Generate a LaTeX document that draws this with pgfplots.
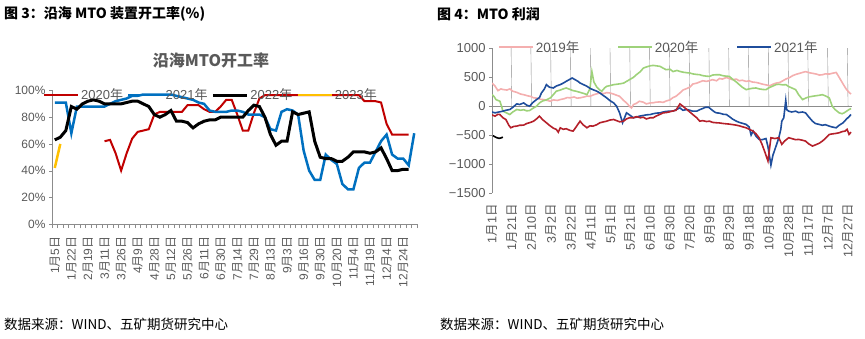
\documentclass[border=0pt]{standalone}
\usepackage{pgfplots}
\usepackage{pgfplotstable}
\pgfplotsset{compat=1.18}
\usepackage{fontspec}
\setmainfont{Liberation Sans}
\newfontfamily\cjk{Noto Sans CJK SC}
\definecolor{txt}{HTML}{595959}
\definecolor{axg}{HTML}{8C8C8C}
\definecolor{c20}{HTML}{C00000}
\definecolor{c21}{HTML}{0070C0}
\definecolor{c23}{HTML}{FFC000}
\definecolor{pk}{HTML}{F4AFAF}
\definecolor{gr}{HTML}{9ED27A}
\definecolor{db}{HTML}{1F4E9C}
\definecolor{dr}{HTML}{B4202A}
\newcommand\md[2]{#1{\cjk 月}#2{\cjk 日}}
\newcommand\yr[1]{#1{\cjk 年}}

\pgfplotstableread[row sep=\\]{
i r b k o\\
0 nan 91 63 42\\
1 nan 91 65 60\\
2 nan 91 70 nan\\
3 nan 68 88 nan\\
4 nan 88 86 nan\\
5 nan 88 90 nan\\
6 nan 88 92 nan\\
7 nan 88 93 nan\\
8 nan 88 92 nan\\
9 62 88 90 nan\\
10 63 90 90 nan\\
11 53 92 90 nan\\
12 40 93 90 nan\\
13 53 94 91 nan\\
14 64 96 92 nan\\
15 69 96 92 nan\\
16 70 97 90 nan\\
17 71 97 88 nan\\
18 82 97 82 nan\\
19 84 97 80 nan\\
20 84 97 82 nan\\
21 84 97 85 nan\\
22 84 96 77 nan\\
23 84 95 77 nan\\
24 89 94 76 nan\\
25 89 93 72 nan\\
26 89 91 75 nan\\
27 86 90 77 nan\\
28 84 85 78 nan\\
29 84 84 78 nan\\
30 88 84 80 nan\\
31 93 84 80 nan\\
32 93 85 80 nan\\
33 82 85 80 nan\\
34 70 84 80 nan\\
35 70 82 85 nan\\
36 83 82 89 nan\\
37 94 82 88 nan\\
38 96.5 80 80 nan\\
39 96.5 71 67 nan\\
40 96.5 70 59 nan\\
41 96.5 84 62 nan\\
42 96.5 86 62 nan\\
43 96.5 85 84 nan\\
44 96.5 82 82 nan\\
45 96.5 55 83 nan\\
46 96.5 40 84 nan\\
47 96.5 33 62 nan\\
48 96.5 33 50 nan\\
49 96.5 52 49 nan\\
50 96.5 48 49 nan\\
51 96.5 45 47 nan\\
52 96.5 30 47 nan\\
53 96.5 26 50 nan\\
54 96.5 26 54 nan\\
55 96.5 42 54 nan\\
56 92 46 54 nan\\
57 92 46 53 nan\\
58 92 54 54 nan\\
59 91 62 57 nan\\
60 75 67 49 nan\\
61 67 52 40 nan\\
62 67 49 40 nan\\
63 67 49 41 nan\\
64 67 44 41 nan\\
65 nan 68 nan nan\\
}\leftdata

\pgfplotstableread[row sep=\\]{
d v\\ 1 400\\ 4 350\\ 7 270\\ 10 300\\ 12 290\\ 16 280\\ 19 300\\ 22 260\\ 26 240\\ 30 210\\ 33 200\\ 37 180\\ 40 170\\ 43 145\\ 47 140\\ 50 120\\ 53 115\\ 57 100\\ 60 86\\ 63 110\\ 67 100\\ 70 115\\ 74 130\\ 77 150\\ 80 145\\ 84 160\\ 87 140\\ 90 145\\ 94 160\\ 97 175\\ 100 172\\ 104 200\\ 107 215\\ 110 230\\ 114 220\\ 117 235\\ 120 230\\ 124 210\\ 127 190\\ 130 172\\ 134 100\\ 137 57\\ 140 0\\ 142 -30\\ 144 29\\ 147 50\\ 150 86\\ 154 70\\ 157 40\\ 161 57\\ 164 60\\ 167 70\\ 171 75\\ 174 66\\ 177 90\\ 181 110\\ 184 150\\ 187 172\\ 191 230\\ 194 280\\ 197 300\\ 201 330\\ 204 384\\ 208 400\\ 211 420\\ 214 441\\ 218 430\\ 221 445\\ 224 460\\ 228 441\\ 231 480\\ 234 470\\ 238 498\\ 241 480\\ 244 460\\ 248 470\\ 251 441\\ 254 450\\ 258 430\\ 261 440\\ 264 420\\ 268 412\\ 271 400\\ 275 380\\ 278 370\\ 282 355\\ 285 380\\ 288 400\\ 292 412\\ 295 440\\ 298 470\\ 302 498\\ 305 530\\ 308 550\\ 312 570\\ 315 585\\ 318 600\\ 322 580\\ 325 570\\ 329 557\\ 332 540\\ 335 545\\ 338 560\\ 342 557\\ 345 570\\ 349 585\\ 352 500\\ 356 384\\ 359 300\\ 362 239\\ 364 211\\
}\pink

\pgfplotstableread[row sep=\\]{
d v\\ 1 200\\ 3 170\\ 5 115\\ 7 100\\ 9 86\\ 11 -20\\ 12 -86\\ 15 -110\\ 19 -144\\ 22 -100\\ 26 -57\\ 30 -70\\ 33 -60\\ 36 -80\\ 39 -75\\ 42 -40\\ 46 0\\ 49 57\\ 52 90\\ 56 110\\ 60 144\\ 63 200\\ 66 260\\ 70 280\\ 73 300\\ 76 316\\ 80 290\\ 83 270\\ 86 260\\ 90 240\\ 94 220\\ 97 200\\ 100 300\\ 102 600\\ 104 420\\ 107 330\\ 110 280\\ 112 260\\ 115 320\\ 117 345\\ 121 360\\ 124 374\\ 127 380\\ 131 390\\ 134 400\\ 137 430\\ 140 460\\ 144 500\\ 147 546\\ 151 600\\ 154 660\\ 157 680\\ 161 700\\ 164 707\\ 167 700\\ 171 690\\ 174 660\\ 177 633\\ 181 640\\ 184 600\\ 188 620\\ 191 603\\ 194 590\\ 198 580\\ 201 575\\ 204 560\\ 208 550\\ 211 546\\ 214 530\\ 218 520\\ 221 517\\ 224 540\\ 228 546\\ 231 546\\ 234 530\\ 238 520\\ 241 517\\ 244 470\\ 248 420\\ 251 374\\ 254 330\\ 258 287\\ 261 300\\ 264 310\\ 268 316\\ 271 300\\ 275 290\\ 278 287\\ 281 320\\ 285 350\\ 288 374\\ 291 380\\ 295 370\\ 298 374\\ 301 340\\ 305 310\\ 308 287\\ 311 200\\ 315 115\\ 318 140\\ 321 160\\ 325 172\\ 328 180\\ 332 190\\ 335 200\\ 338 180\\ 342 144\\ 345 0\\ 348 -60\\ 352 -115\\ 355 -130\\ 357 -115\\ 360 -80\\ 362 -57\\ 364 -40\\
}\green

\pgfplotstableread[row sep=\\]{
d v\\ 1 -100\\ 4 -115\\ 8 -100\\ 12 -86\\ 15 -70\\ 19 -57\\ 22 -20\\ 26 40\\ 29 30\\ 33 57\\ 36 20\\ 39 0\\ 42 60\\ 46 115\\ 49 150\\ 51 230\\ 54 300\\ 56 374\\ 59 330\\ 63 316\\ 66 350\\ 70 374\\ 73 400\\ 76 431\\ 79 460\\ 82 489\\ 85 460\\ 88 430\\ 90 402\\ 94 370\\ 97 345\\ 100 310\\ 103 287\\ 107 260\\ 110 230\\ 114 180\\ 117 144\\ 120 100\\ 124 57\\ 127 0\\ 130 -115\\ 133 -287\\ 135 -200\\ 137 -115\\ 140 -150\\ 144 -200\\ 147 -190\\ 150 -172\\ 154 -160\\ 157 -150\\ 161 -144\\ 164 -130\\ 167 -120\\ 171 -115\\ 174 -100\\ 177 -90\\ 180 -86\\ 184 -86\\ 187 -60\\ 191 -29\\ 194 -70\\ 198 -57\\ 201 -70\\ 204 -86\\ 208 -86\\ 211 -60\\ 214 -40\\ 217 -17\\ 220 -17\\ 223 -60\\ 226 -100\\ 228 -115\\ 231 -120\\ 235 -140\\ 238 -144\\ 241 -180\\ 244 -220\\ 248 -259\\ 251 -280\\ 255 -300\\ 258 -316\\ 261 -360\\ 263 -500\\ 265 -431\\ 268 -520\\ 271 -575\\ 274 -580\\ 278 -560\\ 280 -700\\ 283 -1020\\ 285 -850\\ 288 -700\\ 291 -546\\ 293 -400\\ 294 -259\\ 296 -200\\ 298 100\\ 299 -60\\ 301 -86\\ 304 -100\\ 308 -86\\ 311 -110\\ 315 -100\\ 318 -115\\ 321 -180\\ 325 -259\\ 328 -300\\ 332 -316\\ 335 -330\\ 338 -320\\ 342 -345\\ 345 -360\\ 349 -374\\ 352 -330\\ 356 -287\\ 359 -230\\ 362 -180\\ 364 -144\\
}\blue

\pgfplotstableread[row sep=\\]{
d v\\ 1 -150\\ 4 -172\\ 7 -140\\ 9 -144\\ 12 -200\\ 15 -230\\ 18 -330\\ 20 -374\\ 23 -350\\ 26 -345\\ 29 -330\\ 33 -328\\ 36 -300\\ 40 -280\\ 43 -259\\ 46 -220\\ 49 -172\\ 52 -230\\ 56 -287\\ 59 -330\\ 63 -380\\ 66 -402\\ 68 -450\\ 70 -374\\ 73 -400\\ 76 -390\\ 80 -420\\ 83 -431\\ 86 -360\\ 90 -259\\ 93 -320\\ 97 -374\\ 100 -340\\ 103 -345\\ 107 -320\\ 110 -287\\ 114 -270\\ 117 -259\\ 120 -240\\ 124 -230\\ 127 -250\\ 130 -270\\ 134 -259\\ 137 -220\\ 140 -200\\ 144 -200\\ 147 -180\\ 151 -200\\ 154 -190\\ 157 -220\\ 161 -200\\ 164 -200\\ 167 -170\\ 171 -140\\ 174 -115\\ 177 -110\\ 180 -100\\ 183 -86\\ 187 -70\\ 191 40\\ 194 0\\ 198 -57\\ 201 -100\\ 204 -144\\ 208 -200\\ 211 -259\\ 214 -250\\ 218 -265\\ 221 -259\\ 224 -280\\ 228 -287\\ 231 -290\\ 235 -300\\ 238 -305\\ 241 -310\\ 245 -320\\ 248 -328\\ 251 -340\\ 255 -360\\ 258 -374\\ 261 -400\\ 265 -431\\ 268 -480\\ 271 -546\\ 274 -660\\ 277 -800\\ 280 -949\\ 283 -546\\ 287 -560\\ 291 -546\\ 294 -661\\ 297 -600\\ 301 -546\\ 304 -560\\ 308 -580\\ 311 -575\\ 315 -590\\ 318 -604\\ 321 -650\\ 325 -690\\ 328 -670\\ 332 -640\\ 335 -604\\ 338 -560\\ 342 -489\\ 345 -480\\ 349 -470\\ 352 -460\\ 355 -440\\ 358 -431\\ 360 -400\\ 362 -489\\ 364 -450\\
}\red

\pgfplotstableread[row sep=\\]{
d v\\ 2 -510\\ 4 -530\\ 6 -546\\ 8 -557\\ 10 -550\\ 12 -535\\
}\blk

\begin{document}
\begin{tikzpicture}[x=1bp,y=1bp]
\path (0,0) rectangle (865,338);
\node[anchor=west, inner sep=0pt, font=\cjk\bfseries\fontsize{14bp}{14bp}\selectfont] at (4,324) {图 3：沿海 MTO 装置开工率(\%)};
\node[anchor=west, inner sep=0pt, font=\cjk\bfseries\fontsize{14bp}{14bp}\selectfont] at (437,324) {图 4：MTO 利润};
\node[anchor=west, inner sep=0pt, font=\cjk\fontsize{13.5bp}{14bp}\selectfont] at (4,14) {数据来源：WIND、五矿期货研究中心};
\node[anchor=west, inner sep=0pt, font=\cjk\fontsize{13.5bp}{14bp}\selectfont] at (440,14) {数据来源：WIND、五矿期货研究中心};
\node[font=\cjk\bfseries\fontsize{16bp}{16bp}\selectfont, text=txt] at (211,277.5) {沿海MTO开工率};

\begin{axis}[
  at={(52bp,114bp)}, anchor=south west, scale only axis,
  width=365bp, height=133.5bp,
  xmin=-0.5, xmax=65.5, ymin=0, ymax=100,
  axis lines=left, axis line style={-, draw=axg},
  tick style={draw=axg}, tick align=outside,
  major tick length=3bp, minor tick length=4bp,
  ytick={0,20,40,60,80,100},
  yticklabels={0\%,20\%,40\%,60\%,80\%,100\%},
  xtick={0,3,...,63},
  xticklabels={\md{1}{5},\md{1}{22},\md{2}{19},\md{3}{11},\md{3}{26},\md{4}{9},\md{4}{28},\md{5}{12},\md{5}{26},\md{6}{11},\md{6}{30},\md{7}{14},\md{7}{29},\md{8}{13},\md{9}{3},\md{9}{16},\md{9}{30},\md{10}{20},\md{11}{4},\md{11}{19},\md{12}{4},\md{12}{24}},
  major x tick style={draw=none},
  minor xtick={-0.5,0.5,...,65.5},
  xticklabel shift=6bp,
  xticklabel style={rotate=90, anchor=east, font=\fontsize{12bp}{12bp}\selectfont, text=txt},
  yticklabel style={font=\fontsize{12bp}{12bp}\selectfont, text=txt},
  unbounded coords=jump,
  legend columns=4,
  legend style={at={(-0.0247,0.966)}, anchor=west, draw=none, fill=none, inner sep=0pt,
    font=\fontsize{13bp}{13bp}\selectfont, text=txt,
    /tikz/every even column/.append style={column sep=2bp}},
  legend image code/.code={\draw[#1] (0bp,0bp) -- (34bp,0bp);},
]
\addplot[c20, line width=2bp] table[x=i, y=r] {\leftdata};
\addlegendentry{\yr{2020}}
\addplot[c21, line width=2.5bp] table[x=i, y=b] {\leftdata};
\addlegendentry{\yr{2021}}
\addplot[black, line width=3bp] table[x=i, y=k] {\leftdata};
\addlegendentry{\yr{2022}}
\addplot[c23, line width=2.5bp] table[x=i, y=o] {\leftdata};
\addlegendentry{\yr{2023}}
\end{axis}

\begin{axis}[
  at={(492bp,145.2bp)}, anchor=south west, scale only axis,
  width=360bp, height=144.3bp,
  xmin=1, xmax=365, ymin=-1500, ymax=1000,
  axis lines=left, axis line style={-, draw=axg},
  x axis line style={draw=none},
  tick style={draw=axg}, tick align=outside,
  major tick length=3bp,
  ytick={-1500,-1000,-500,0,500,1000},
  yticklabels={−1500,−1000,−500,0,500,1000},
  xtick={1,21,...,361},
  xticklabels={\md{1}{1},\md{1}{21},\md{2}{10},\md{3}{2},\md{3}{22},\md{4}{11},\md{5}{1},\md{5}{21},\md{6}{10},\md{6}{30},\md{7}{20},\md{8}{9},\md{8}{29},\md{9}{18},\md{10}{8},\md{10}{28},\md{11}{17},\md{12}{7},\md{12}{27}},
  major x tick style={draw=none},
  xticklabel shift=5bp,
  xticklabel style={rotate=90, anchor=east, font=\fontsize{12.5bp}{12.5bp}\selectfont, text=txt},
  yticklabel style={font=\fontsize{13bp}{13bp}\selectfont, text=txt},
  legend columns=3,
  legend style={at={(0.0167,1.01)}, anchor=west, draw=none, fill=none, inner sep=0pt,
    font=\fontsize{13.5bp}{13.5bp}\selectfont, text=txt,
    /tikz/every even column/.append style={column sep=36bp}},
  legend image code/.code={\draw[#1] (0bp,0bp) -- (34bp,0bp);},
]
\draw[axg] (axis cs:1,0) -- (axis cs:365,0);
\pgfplotsinvokeforeach{1,21,...,361}{\draw[axg] (axis cs:#1,0) -- ++(0,-4bp);}
\addplot[pk, line width=1.6bp] table[x=d, y=v] {\pink};
\addlegendentry{\yr{2019}}
\addplot[gr, line width=1.6bp] table[x=d, y=v] {\green};
\addlegendentry{\yr{2020}}
\addplot[db, line width=1.6bp] table[x=d, y=v] {\blue};
\addlegendentry{\yr{2021}}
\addplot[dr, line width=1.6bp, forget plot] table[x=d, y=v] {\red};
\addplot[black, line width=1.6bp, forget plot] table[x=d, y=v] {\blk};
\end{axis}
\end{tikzpicture}
\end{document}
